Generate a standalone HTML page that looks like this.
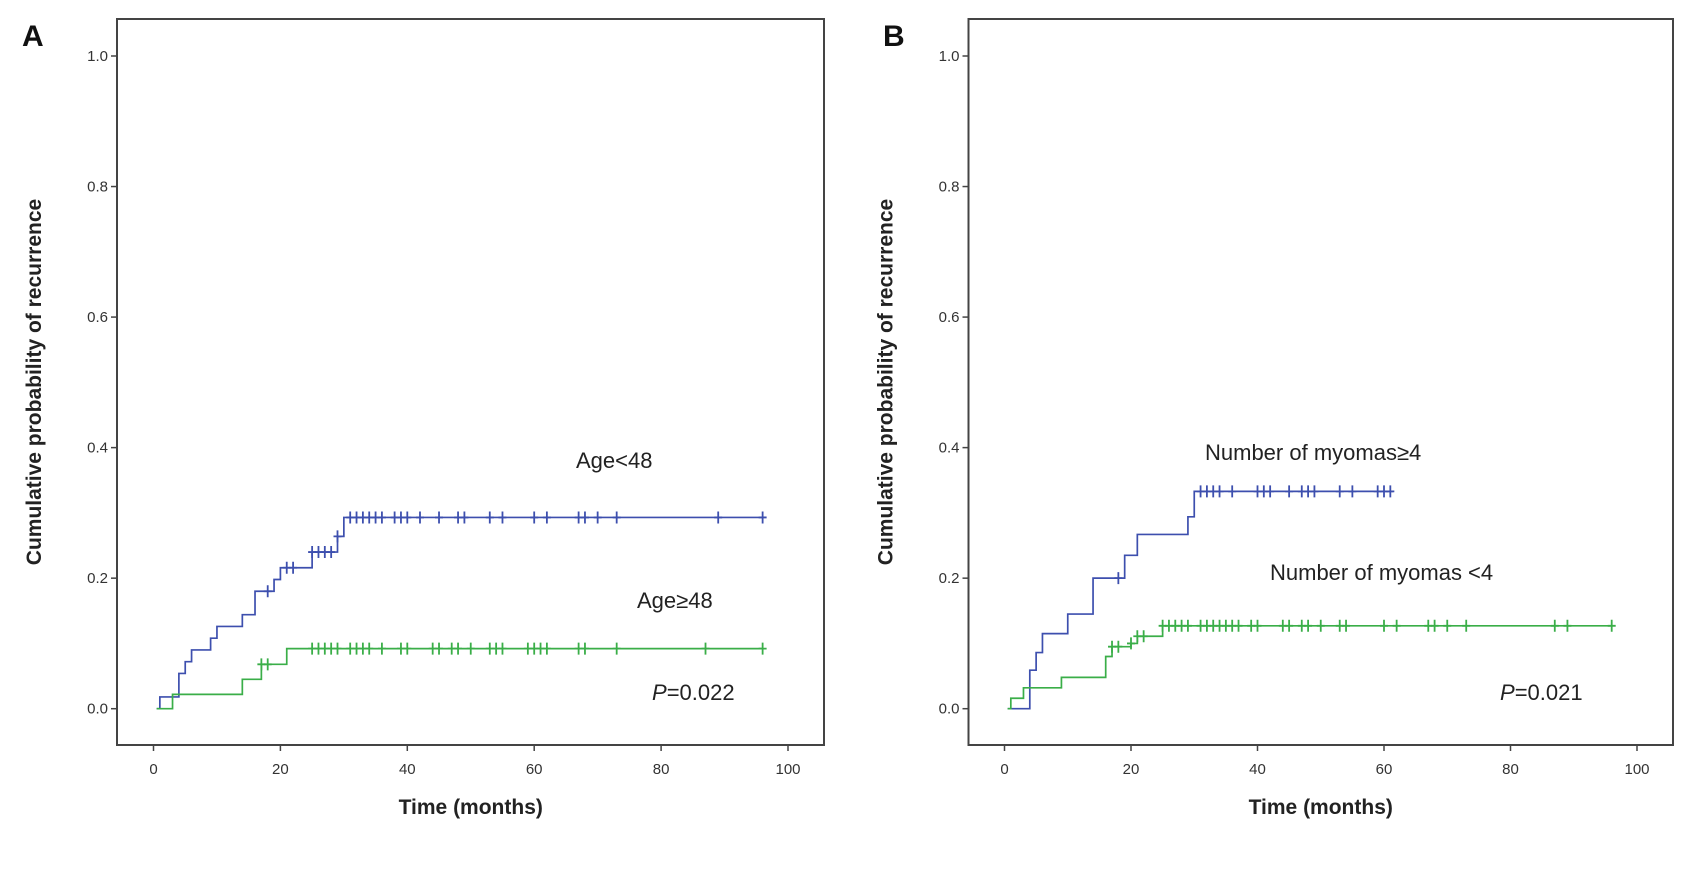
<!DOCTYPE html>
<html><head><meta charset="utf-8"><style>
body{margin:0;background:#fff;}
svg{display:block;font-family:"Liberation Sans",Arial,sans-serif;}
</style></head><body>
<svg id="chart" width="1693" height="875" viewBox="0 0 1693 875"></svg>
<script>
// Panel A data
const aBlueT=[0.5,1,4,5,6,9,10,14,16,19,20,25,29,30];
const aBlueV=[0,0.018,0.054,0.072,0.09,0.108,0.126,0.144,0.18,0.198,0.216,0.24,0.264,0.293];
const aBlueEnd=96;
const aBlueCens=[18,21,22,25,26,27,28,29,31,32,33,34,35,36,38,39,40,42,45,48,49,53,55,60,62,67,68,70,73,89,96];
const aGreenT=[0.5,3,14,17,21];
const aGreenV=[0,0.022,0.045,0.068,0.092];
const aGreenEnd=96;
const aGreenCens=[17,18,25,26,27,28,29,31,32,33,34,36,39,40,44,45,47,48,50,53,54,55,59,60,61,62,67,68,73,87,96];
// Panel B data
const bBlueT=[0.5,4,5,6,10,14,19,21,29,30];
const bBlueV=[0,0.059,0.086,0.115,0.145,0.2,0.235,0.267,0.294,0.333];
const bBlueEnd=61.5;
const bBlueCens=[18,31,32,33,34,36,40,41,42,45,47,48,49,53,55,59,60,61];
const bGreenT=[0.5,1,3,9,16,17,20,21,25];
const bGreenV=[0,0.016,0.032,0.048,0.08,0.095,0.1,0.111,0.127];
const bGreenEnd=96;
const bGreenCens=[17,18,20,21,22,25,26,27,28,29,31,32,33,34,35,36,37,39,40,44,45,47,48,50,53,54,60,62,67,68,70,73,87,89,96];
const xTicks=[0,20,40,60,80,100];
const yTicks=[0,0.2,0.4,0.6,0.8,1.0];

const NS="http://www.w3.org/2000/svg";
const svg=document.getElementById('chart');
function mk(tag,attrs,parent){const e=document.createElementNS(NS,tag);for(const k in attrs)e.setAttribute(k,attrs[k]);(parent||svg).appendChild(e);return e;}

function panel(letter,ox,boxL,boxR,x0,x100,series,labels,pText,pX){
  const g=mk('g',{});
  
  
  const yTop=19,yBot=745,y0=708.7,y1=56;
  const X=t=>x0+(x100-x0)*t/100;
  const Y=v=>y0+(y1-y0)*v;
  const box=mk('rect',{x:boxL,y:yTop,width:boxR-boxL,height:yBot-yTop,fill:'none',stroke:'#444','stroke-width':2},g);
  
  
  const L=mk('text',{x:ox,y:46,'font-size':30,'font-weight':'bold',fill:'#111'},g);
  L.textContent=letter;
  
  
  yTicks.forEach(v=>{
    mk('line',{x1:boxL-6,x2:boxL,y1:Y(v),y2:Y(v),stroke:'#444','stroke-width':1.5},g);
    const t=mk('text',{x:boxL-9,y:Y(v)+5,'text-anchor':'end','font-size':15,fill:'#333'},g);
    t.textContent=v.toFixed(1);
    
    
  });
  xTicks.forEach(v=>{
    mk('line',{x1:X(v),x2:X(v),y1:yBot,y2:yBot+6,stroke:'#444','stroke-width':1.5},g);
    const t=mk('text',{x:X(v),y:774,'text-anchor':'middle','font-size':15,fill:'#333'},g);
    t.textContent=v;
    
    
  });
  const yt=mk('text',{x:0,y:0,transform:`translate(${boxL-76},382) rotate(-90)`,'text-anchor':'middle','font-size':21,'font-weight':'bold',fill:'#222'},g);
  yt.textContent='Cumulative probability of recurrence';
  
  
  const xt=mk('text',{x:(x0+x100)/2,y:814,'text-anchor':'middle','font-size':21,'font-weight':'bold',fill:'#222'},g);
  xt.textContent='Time (months)';
  
  
  series.forEach(s=>{
    let d=`M${X(s.t[0])},${Y(s.v[0])}`;
    for(let i=1;i<s.t.length;i++){d+=` H${X(s.t[i])} V${Y(s.v[i])}`;}
    d+=` H${X(s.end)}`;
    const p=mk('path',{d:d,fill:'none',stroke:s.color,'stroke-width':1.7},g);
    
    
    s.cens.forEach(c=>{
      let v=s.v[0];for(let i=0;i<s.t.length;i++){if(s.t[i]<=c)v=s.v[i];}
      const m=mk('path',{d:`M${X(c)},${Y(v)-6}V${Y(v)+6}M${X(c)-4},${Y(v)}H${X(c)+4}`,stroke:s.color,'stroke-width':1.8},g);
      
      
    });
  });
  labels.forEach(l=>{
    const t=mk('text',{x:l.x,y:l.y,'font-size':22,fill:'#222'},g);
    t.textContent=l.text;
    
    
  });
  const pt=mk('text',{x:pX,y:700,'font-size':22,fill:'#222'},g);
  const it=mk('tspan',{'font-style':'italic'},pt);it.textContent='P';
  const rt=mk('tspan',{},pt);rt.textContent=pText;
  
  
}
const BLUE='#3d4fae',GREEN='#3aae48';
panel('A',22,117,824,153.5,788,
 [{name:'age-under-48',t:aBlueT,v:aBlueV,end:aBlueEnd,cens:aBlueCens,color:BLUE},
  {name:'age-48-plus',t:aGreenT,v:aGreenV,end:aGreenEnd,cens:aGreenCens,color:GREEN}],
 [{text:'Age<48',x:576,y:468,name:'label-age-under-48'},{text:'Age≥48',x:637,y:608,name:'label-age-48-plus'}],
 '=0.022',652);
panel('B',883,968.5,1673,1004.5,1637,
 [{name:'myomas-4-plus',t:bBlueT,v:bBlueV,end:bBlueEnd,cens:bBlueCens,color:BLUE},
  {name:'myomas-under-4',t:bGreenT,v:bGreenV,end:bGreenEnd,cens:bGreenCens,color:GREEN}],
 [{text:'Number of myomas≥4',x:1205,y:460,name:'label-myomas-4-plus'},{text:'Number of myomas <4',x:1270,y:580,name:'label-myomas-under-4'}],
 '=0.021',1500);
</script>
</body></html>
